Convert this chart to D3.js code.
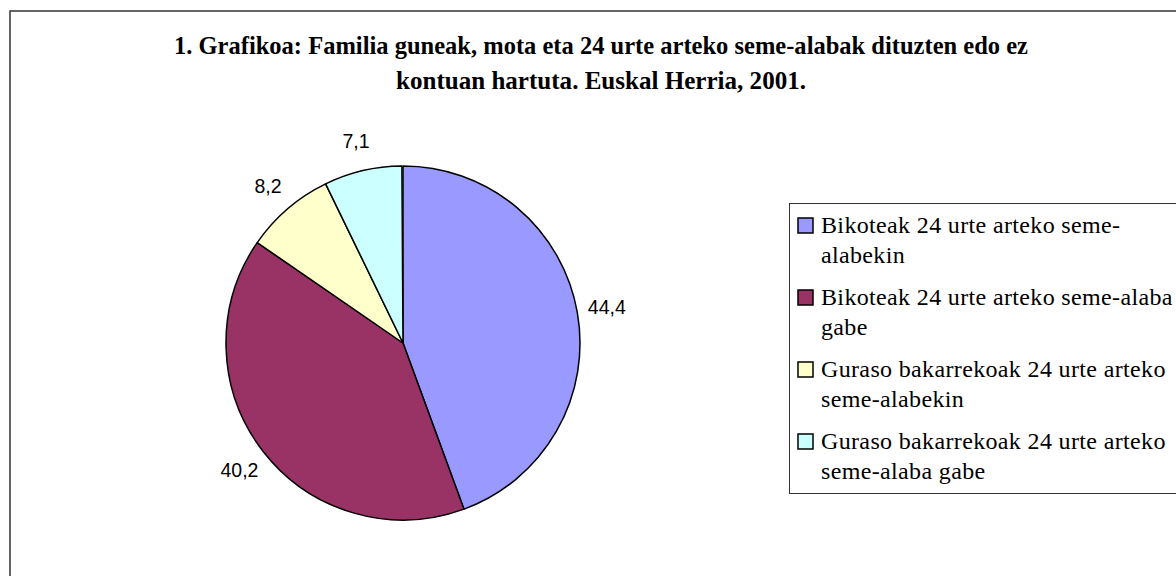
<!DOCTYPE html>
<html>
<head>
<meta charset="utf-8">
<script src="https://cdn.jsdelivr.net/npm/d3@7"></script>
<style>
  body { margin: 0; background: #fff; }
  svg { display: block; }
</style>
</head>
<body>
<svg id="chart"></svg>
<script>
// values, clockwise from 12 o'clock
const categories = [
    ["Bikoteak 24 urte arteko seme-", "alabekin"],
    ["Bikoteak 24 urte arteko seme-alaba", "gabe"],
    ["Guraso bakarrekoak 24 urte arteko", "seme-alabekin"],
    ["Guraso bakarrekoak 24 urte arteko", "seme-alaba gabe"]
];
const values = [44.4, 40.2, 8.2, 7.1];
const labels = ["44,4", "40,2", "8,2", "7,1"];
const colors = ["#9999FF", "#993366", "#FFFFCC", "#CCFFFF"];
const titleLines = [
    "1. Grafikoa: Familia guneak, mota eta 24 urte arteko seme-alabak dituzten edo ez",
    "kontuan hartuta. Euskal Herria, 2001."
];

const width = 1176, height = 576;
const cx = 403, cy = 343, radius = 177;

const svg = d3.select("#chart")
    .attr("width", width)
    .attr("height", height);

// chart area frame (runs off the right and bottom edge)
svg.append("rect")
    .attr("x", 10).attr("y", 11)
    .attr("width", 1300).attr("height", 700)
    .attr("fill", "none")
    .attr("stroke", "#333")
    .attr("stroke-width", 1.5);

// title
svg.append("g")
    .selectAll("text")
    .data(titleLines)
    .join("text")
    .attr("x", 601)
    .attr("y", (d, i) => 54 + i * 35)
    .attr("text-anchor", "middle")
    .attr("font-family", "'Liberation Serif', 'Times New Roman', serif")
    .attr("font-weight", "bold")
    .attr("font-size", 25)
    .attr("textLength", (d, i) => i === 0 ? 854 : 410)
    .attr("lengthAdjust", "spacingAndGlyphs")
    .text(d => d);

// pie
const pie = d3.pie().sort(null).value(d => d)
    .startAngle(0).endAngle(2 * Math.PI * d3.sum(values) / 100);
const arcs = pie(values);
const arc = d3.arc().innerRadius(0).outerRadius(radius);
const labelArc = d3.arc().innerRadius(207).outerRadius(207);

const g = svg.append("g").attr("transform", `translate(${cx},${cy})`);

g.selectAll("path")
    .data(arcs)
    .join("path")
    .attr("d", arc)
    .attr("fill", (d, i) => colors[i])
    .attr("stroke", "#000")
    .attr("stroke-width", 1.5)
    .attr("stroke-linejoin", "round");

g.selectAll("text")
    .data(arcs)
    .join("text")
    .attr("transform", d => `translate(${labelArc.centroid(d)})`)
    .attr("text-anchor", "middle")
    .attr("dy", "0.36em")
    .attr("font-family", "'Liberation Sans', Arial, sans-serif")
    .attr("font-size", 19.5)
    .attr("fill", "#000")
    .text((d, i) => labels[i]);

// legend
const legend = svg.append("g");
legend.append("rect")
    .attr("x", 789.5).attr("y", 203.5)
    .attr("width", 500).attr("height", 290)
    .attr("fill", "#fff")
    .attr("stroke", "#333")
    .attr("stroke-width", 1);

const item = legend.selectAll("g.item")
    .data(categories)
    .join("g")
    .attr("class", "item")
    .attr("transform", (d, i) => `translate(0, ${233 + i * 72})`);

item.append("rect")
    .attr("x", 798).attr("y", -15)
    .attr("width", 15).attr("height", 15)
    .attr("fill", (d, i) => colors[i])
    .attr("stroke", "#000")
    .attr("stroke-width", 1.5);

item.append("text")
    .attr("font-family", "'Liberation Serif', 'Times New Roman', serif")
    .attr("font-size", 24)
    .attr("letter-spacing", 0.35)
    .attr("fill", "#000")
    .selectAll("tspan")
    .data(d => d)
    .join("tspan")
    .attr("x", 821)
    .attr("y", (d, i) => i * 30)
    .text(d => d);
</script>
</body>
</html>
